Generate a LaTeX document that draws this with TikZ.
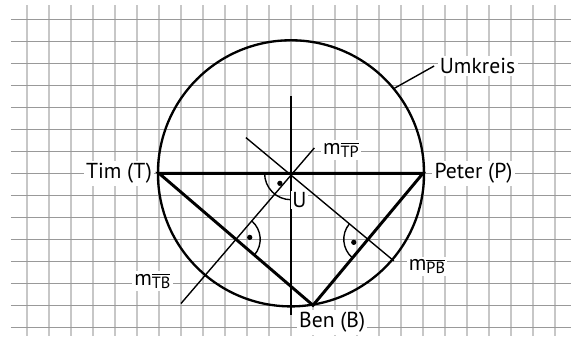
\documentclass[tikz,border=0pt]{standalone}
\usepackage{fontspec}
\setmainfont{PT Sans}
\usetikzlibrary{calc}
\newcommand{\mname}[1]{m\raisebox{-0.3ex}{$\overline{\mbox{\fontsize{10.5}{12}\selectfont #1}}$}}
\begin{document}
\begin{tikzpicture}[x=0.5cm,y=0.5cm,font=\fontsize{14}{16}\selectfont,
  vline/.style={black!22,line width=1.1pt},
  hline/.style={black!40,line width=0.7pt},
  side/.style={line width=1.9pt},
  kreis/.style={line width=1.5pt},
  mline/.style={line width=0.9pt},
  lbl/.style={fill=white,inner sep=1.5pt}]
\useasboundingbox (-13.23,-7.40) rectangle (12.73,7.88);
\foreach \x in {-12,...,12}
  \draw[vline] (\x,7.65) -- (\x,-7.40);
\foreach \y in {-7,...,7}
  \draw[hline] (-12.73,\y) -- (12.73,\y);
\coordinate (U) at (0,0);
\coordinate (T) at (-6,0);
\coordinate (P) at (6,0);
\coordinate (B) at (1,-6);
\coordinate (Mtb) at ($(T)!0.5!(B)$);
\coordinate (Mpb) at ($(P)!0.5!(B)$);
\draw[kreis] (U) circle[radius=6.05];
\draw[side] (T) -- (P) -- (B) -- cycle;
\draw[mline] (0,3.5) -- (0,-6.45);
\draw[mline] ($(Mtb)!-0.835!90:(B)$) -- ($(Mtb)!1.187!90:(B)$);
\draw[mline] ($(Mpb)!-1.85!90:(B)$) -- ($(Mpb)!0.392!90:(B)$);
\draw[mline] ($(U)+(180:1.2)$) arc[start angle=180,end angle=270,radius=1.2];
\fill ($(U)+(222:0.68)$) circle[radius=0.12];
\draw[mline] ($(Mtb)+(-40.6:1.1)$) arc[start angle=-40.6,end angle=49.4,radius=1.1];
\fill ($(Mtb)+(8:0.63)$) circle[radius=0.12];
\draw[mline] ($(Mpb)+(140.2:1.1)$) arc[start angle=140.2,end angle=230.2,radius=1.1];
\fill ($(Mpb)+(192:0.66)$) circle[radius=0.12];
\node[lbl] (tim) at (-7.82,0) {Tim (T)};
\node[lbl] (peter) at (8.3,0) {Peter (P)};
\node[lbl] (ben) at (1.87,-6.78) {Ben (B)};
\node[lbl,inner sep=1pt] (ulbl) at (0.38,-1.2) {U};
\node[lbl] (umkreis) at (8.48,4.88) {Umkreis};
\coordinate (kp) at (39.5:6.05);
\draw[mline] (kp) -- ([xshift=-2pt]umkreis.west);
\node[lbl] (mtp) at (2.27,1.06) {\mname{TP}};
\node[lbl] (mtb) at (-6.3,-4.9) {\mname{TB}};
\node[lbl] (mpb) at (6.18,-4.23) {\mname{PB}};
\end{tikzpicture}
\end{document}
